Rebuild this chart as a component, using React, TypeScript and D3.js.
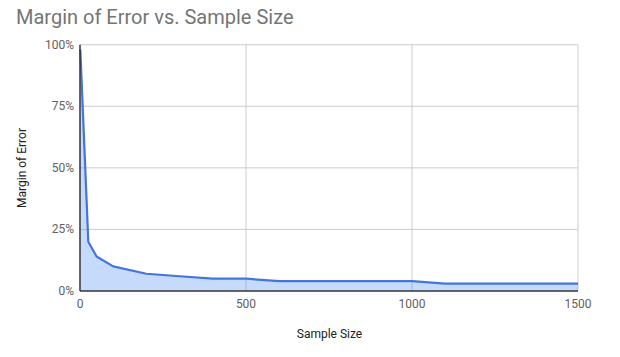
import React from "react";
import * as d3 from "d3";

const sampleSizes = [1, 25, 50, 100, 200, 300, 400, 500, 600, 700, 800, 900, 1000, 1100, 1200, 1300, 1400, 1500];
const marginOfError = [98, 20, 14, 10, 7, 6, 5, 5, 4, 4, 4, 4, 4, 3, 3, 3, 3, 3];
const xTicks = [0, 500, 1000, 1500];
const yTicks = [0, 25, 50, 75, 100];

const W = 620, H = 357;
const left = 80, right = 578, top = 44.7, bottom = 291;
const font = "Roboto, Arial, sans-serif";

export default function App() {
  const x = d3.scaleLinear().domain([0, 1500]).range([left, right]);
  const y = d3.scaleLinear().domain([0, 100]).range([bottom, top]);
  const data = sampleSizes.map((n, i) => ({ n, v: marginOfError[i] }));
  const line = d3.line<{ n: number; v: number }>().x(d => x(d.n)).y(d => y(d.v));
  const area = d3.area<{ n: number; v: number }>().x(d => x(d.n)).y0(y(0)).y1(d => y(d.v));
  return (
    <svg width={W} height={H} style={{ position: "absolute", left: 0, top: 0 }}>
      <rect width={W} height={H} fill="#fff" />
      <text x={16} y={23.5} fontFamily={font} fontSize={20} fill="#757575">Margin of Error vs. Sample Size</text>
      {yTicks.map(t => (
        <g key={"y" + t}>
          {t > 0 && <line x1={left} x2={right} y1={y(t)} y2={y(t)} stroke="#ccc" strokeWidth={1} />}
          <text x={74} y={y(t) + 4} textAnchor="end" fontFamily={font} fontSize={12} fill="#5f5f5f">{t}%</text>
        </g>
      ))}
      {xTicks.map(t => (
        <g key={"x" + t}>
          {t > 0 && <line x1={x(t)} x2={x(t)} y1={top} y2={bottom} stroke="#ccc" strokeWidth={1} />}
          <text x={x(t)} y={308} textAnchor="middle" fontFamily={font} fontSize={12} fill="#5f5f5f">{t}</text>
        </g>
      ))}
      <path d={area(data) || ""} fill="#4285f4" fillOpacity={0.3} />
      <path d={line(data) || ""} fill="none" stroke="#4374e0" strokeWidth={2.2} strokeLinejoin="round" />
      <line x1={left} x2={right} y1={bottom} y2={bottom} stroke="#333" strokeWidth={1.5} />
      <line x1={left} x2={left} y1={top} y2={bottom} stroke="#333" strokeWidth={1.5} />
      <text x={329.5} y={338} textAnchor="middle" fontFamily={font} fontSize={12} fill="#222">Sample Size</text>
      <text transform={`translate(26,168) rotate(-90)`} textAnchor="middle" fontFamily={font} fontSize={12} fill="#222">Margin of Error</text>
    </svg>
  );
}
